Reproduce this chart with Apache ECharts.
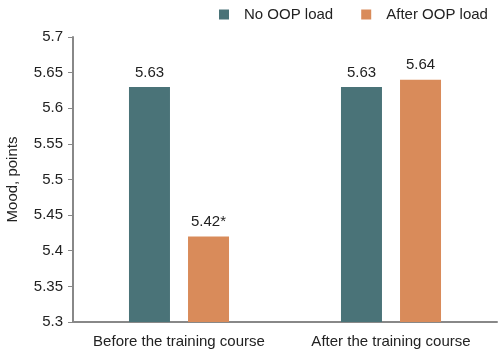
<!DOCTYPE html>
<html><head><meta charset="utf-8">
<script src="https://cdn.jsdelivr.net/npm/echarts@6/dist/echarts.min.js"></script>
<style>html,body{margin:0;padding:0;background:#fff}#c{width:502px;height:353px}</style>
</head><body><div id="c"></div>
<script>
var categories = ['Before the training course', 'After the training course'];
var noOopValues = [5.63, 5.63];
var afterOopValues = [5.42, 5.64];
var afterOopLabels = ['5.42*', '5.64'];
var yTicks = [5.3, 5.35, 5.4, 5.45, 5.5, 5.55, 5.6, 5.65, 5.7];

var font = 'Liberation Sans, Arial, Helvetica, sans-serif';
var fs = 15;
var chart = echarts.init(document.getElementById('c'), null, {renderer: 'canvas'});
chart.setOption({
  animation: false,
  textStyle: {fontFamily: font},
  legend: {
    top: 2, left: 214, itemWidth: 10, itemHeight: 10, itemGap: 28,
    icon: 'rect',
    textStyle: {fontSize: fs, color: '#222', fontFamily: font, padding: [0, 0, 0, 10]},
    data: ['No OOP load', 'After OOP load']
  },
  grid: {left: 73, right: 5, top: 37, bottom: 31, containLabel: false, outerBoundsMode: 'none'},
  xAxis: {
    type: 'category', data: categories,
    axisLine: {lineStyle: {color: '#888', width: 2}},
    axisTick: {show: false},
    axisLabel: {fontSize: fs, color: '#222', margin: 12, fontFamily: font, interval: 0, hideOverlap: false}
  },
  yAxis: {
    type: 'value', min: 5.3, max: 5.7, interval: 0.05,
    name: 'Mood, points', nameLocation: 'middle', nameGap: 53, nameRotate: 90,
    nameTextStyle: {fontSize: fs, color: '#222', fontFamily: font},
    axisLine: {show: true, lineStyle: {color: '#888', width: 2}},
    axisTick: {show: true, length: 5, inside: false, lineStyle: {color: '#888'}},
    splitLine: {show: false},
    axisLabel: {fontSize: fs, color: '#222', margin: 10, fontFamily: font,
      formatter: function (v) { var t = yTicks.find(function (x) { return Math.abs(x - v) < 1e-6; }); return t === undefined ? '' : String(t); }}
  },
  series: [
    {name: 'No OOP load', type: 'bar', data: noOopValues, barWidth: 41, barGap: '44%',
     itemStyle: {color: '#4a7378'},
     label: {show: true, position: 'top', distance: 7, fontSize: fs, color: '#222', fontFamily: font}},
    {name: 'After OOP load', type: 'bar', data: afterOopValues, barWidth: 41,
     itemStyle: {color: '#d98b5a'},
     label: {show: true, position: 'top', distance: 7, fontSize: fs, color: '#222', fontFamily: font,
       formatter: function (p) { return afterOopLabels[p.dataIndex]; }}}
  ]
});
</script></body></html>
